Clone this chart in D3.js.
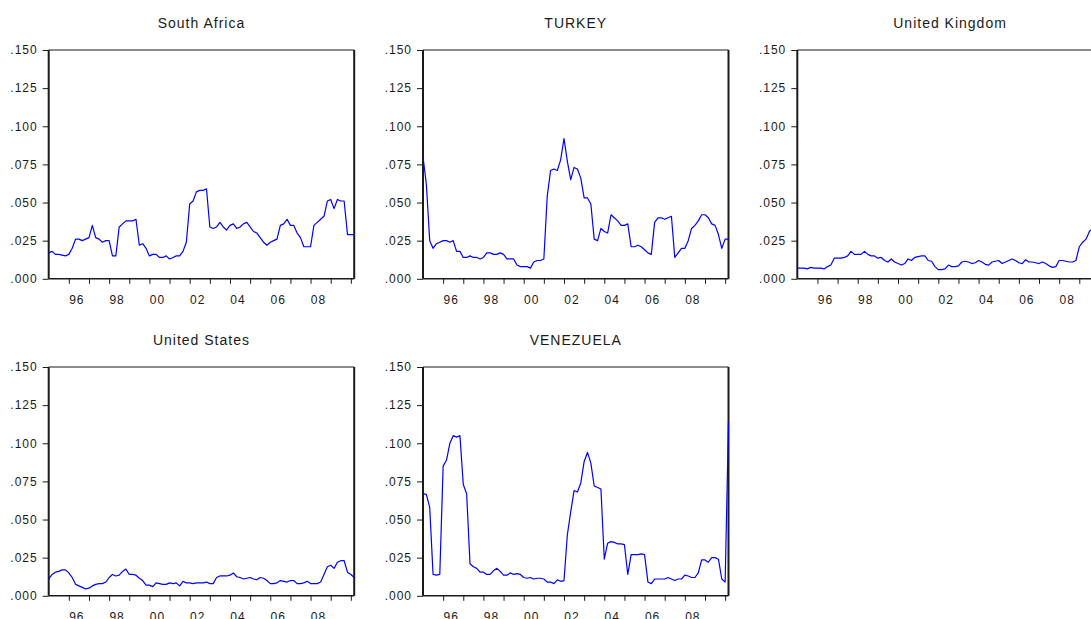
<!DOCTYPE html>
<html>
<head>
<meta charset="utf-8">
<script src="https://cdn.jsdelivr.net/npm/d3@7"></script>
<style>
  html, body { margin: 0; padding: 0; background: #fff; }
  svg { display: block; }
  text { font-family: "Liberation Sans", Arial, sans-serif; fill: #1a1a1a; }
</style>
</head>
<body>
<svg id="chart" width="1091" height="619"></svg>
<script>
// ---- data: bimonthly observations starting Jan 1995 ----
const startYear = 1995;
const stepYears = 1 / 6;

const southAfrica = [
  .017,.018,.016,.016,.0155,.015,.016,.020,.026,.026,.025,.026,.027,.035,.027,.026,
  .024,.025,.025,.015,.015,.034,.036,.038,.038,.038,.039,.022,.023,.020,.015,.016,
  .016,.014,.014,.015,.013,.014,.015,.015,.018,.024,.049,.051,.057,.058,.058,.059,
  .034,.033,.034,.037,.034,.032,.035,.036,.033,.034,.036,.037,.034,.031,.030,.027,
  .024,.022,.024,.025,.026,.035,.036,.039,.035,.035,.030,.027,.021,.021,.021,.035,
  .037,.039,.041,.051,.052,.046,.052,.051,.051,.029,.029,.029
];
const turkey = [
  .080,.062,.025,.020,.023,.024,.025,.025,.024,.025,.018,.018,.014,.014,.015,.014,
  .014,.013,.014,.017,.017,.016,.016,.017,.016,.013,.013,.013,.009,.008,.008,.008,
  .007,.011,.012,.012,.013,.054,.071,.072,.071,.078,.092,.077,.065,.073,.072,.066,
  .053,.053,.049,.026,.025,.033,.031,.030,.042,.040,.038,.035,.035,.036,.021,.021,
  .022,.021,.019,.017,.016,.037,.040,.040,.039,.040,.041,.014,.017,.020,.020,.025,
  .033,.035,.038,.042,.042,.040,.036,.035,.029,.020,.026,.026
];
const unitedKingdom = [
  .007,.007,.007,.0065,.0075,.007,.007,.007,.0065,.008,.009,.0135,.0135,.0135,.014,.015,
  .018,.016,.016,.016,.018,.016,.015,.015,.0135,.014,.012,.011,.013,.011,.010,.009,
  .010,.013,.012,.014,.0145,.015,.015,.012,.0115,.008,.006,.006,.0065,.009,.008,.008,
  .0085,.011,.0115,.011,.010,.0105,.012,.011,.0095,.009,.011,.0115,.012,.010,.011,.012,
  .013,.012,.0105,.010,.0125,.011,.011,.0105,.010,.011,.010,.0085,.0075,.008,.012,.012,
  .0115,.011,.011,.012,.021,.024,.026,.031,.033,.034,.035,.036
];
const unitedStates = [
  .011,.014,.0155,.016,.017,.017,.015,.012,.0075,.0065,.0055,.0045,.005,.0065,.0075,.008,
  .008,.009,.012,.014,.013,.0135,.016,.0175,.014,.014,.0135,.0115,.010,.007,.007,.006,
  .0085,.008,.0075,.0075,.0085,.008,.0085,.0065,.0095,.0085,.0085,.008,.0085,.0085,.0085,.009,
  .008,.008,.012,.013,.013,.013,.0135,.015,.0125,.012,.011,.0115,.012,.011,.0105,.012,
  .0115,.010,.008,.008,.0085,.010,.0095,.009,.010,.010,.008,.008,.0085,.0095,.008,.008,
  .008,.009,.014,.019,.020,.018,.022,.023,.023,.0155,.014,.012
];
const venezuela = [
  .067,.0665,.058,.014,.0135,.014,.085,.089,.100,.105,.104,.105,.073,.067,.021,.019,
  .018,.0155,.0155,.014,.014,.0165,.018,.016,.0135,.0135,.015,.014,.0145,.014,.012,.0115,
  .012,.011,.0115,.0115,.011,.009,.009,.008,.0105,.0095,.010,.040,.055,.069,.068,.074,
  .088,.094,.087,.072,.071,.070,.024,.0345,.0355,.035,.034,.034,.0335,.014,.027,.027,
  .027,.0275,.027,.009,.008,.011,.011,.011,.011,.012,.011,.010,.011,.011,.0135,.013,
  .012,.012,.015,.0235,.0235,.022,.025,.025,.024,.011,.009,.114
];

const panelTitles = ["South Africa", "TURKEY", "United Kingdom", "United States", "VENEZUELA"];
const panelSeries = [southAfrica, turkey, unitedKingdom, unitedStates, venezuela];
const yTickValues = [0, .025, .05, .075, .1, .125, .15];
const yearTicks = d3.range(1996, 2011);
const labelYears = [1996, 1998, 2000, 2002, 2004, 2006, 2008];

// ---- layout ----
const svg = d3.select("#chart");
const panelW = 305.5, panelH = 228.8;
const lefts = [48.7, 423, 797.3];
const tops = [50, 367];
const positions = [[0,0],[1,0],[2,0],[0,1],[1,1]];

const fmtY = v => d3.format(".3f")(v).replace(/^0/, "");
const fmtYear = y => String(y % 100).padStart(2, "0");

panelSeries.forEach((values, k) => {
  const [col, row] = positions[k];
  const g = svg.append("g").attr("transform", `translate(${lefts[col]},${tops[row]})`);

  const x = d3.scaleLinear()
    .domain([startYear, startYear + (values.length - 1) * stepYears])
    .range([0, panelW]);
  const y = d3.scaleLinear().domain([0, 0.15]).range([panelH, 0]);

  // title
  g.append("text")
    .attr("x", panelW / 2).attr("y", -22)
    .attr("text-anchor", "middle")
    .style("font-size", "14px").style("letter-spacing", "1px")
    .text(panelTitles[k]);

  // y axis
  const ya = g.append("g").call(d3.axisLeft(y).tickValues(yTickValues).tickFormat(fmtY).tickSize(6).tickPadding(5));
  ya.select(".domain").remove();
  ya.selectAll(".tick line").attr("stroke", "#1a1a1a").attr("stroke-width", 1);
  ya.selectAll(".tick text").style("font-size", "12px").style("letter-spacing", "1px")
    .style("font-family", "Liberation Sans, Arial, sans-serif").attr("fill", "#1a1a1a");

  // x axis ticks
  const xa = g.append("g").attr("transform", `translate(0,${panelH})`)
    .call(d3.axisBottom(x).tickValues(yearTicks).tickFormat("").tickSize(5));
  xa.select(".domain").remove();
  xa.selectAll(".tick line").attr("stroke", "#1a1a1a").attr("stroke-width", 1);

  // x labels
  g.selectAll(".xl").data(labelYears).join("text")
    .attr("class", "xl")
    .attr("x", d => x(d) + 8).attr("y", panelH + 25)
    .attr("text-anchor", "middle")
    .style("font-size", "12px").style("letter-spacing", "1px")
    .text(fmtYear);

  // frame
  g.append("line").attr("x1", 0).attr("x2", panelW).attr("y1", 0).attr("y2", 0)
    .attr("stroke", "#1a1a1a").attr("stroke-width", 1.2);
  g.append("line").attr("x1", 0).attr("x2", panelW).attr("y1", panelH).attr("y2", panelH)
    .attr("stroke", "#1a1a1a").attr("stroke-width", 1.5);
  g.append("line").attr("x1", 0).attr("x2", 0).attr("y1", 0).attr("y2", panelH)
    .attr("stroke", "#1a1a1a").attr("stroke-width", 2);
  g.append("line").attr("x1", panelW).attr("x2", panelW).attr("y1", 0).attr("y2", panelH)
    .attr("stroke", "#1a1a1a").attr("stroke-width", 2);

  // series line
  const line = d3.line()
    .x((d, i) => x(startYear + i * stepYears))
    .y(d => y(d));
  g.append("path").datum(values)
    .attr("d", line)
    .attr("fill", "none")
    .attr("stroke", "#0000ff")
    .attr("stroke-width", 1.2)
    .attr("stroke-linejoin", "round");
});
</script>
</body>
</html>
